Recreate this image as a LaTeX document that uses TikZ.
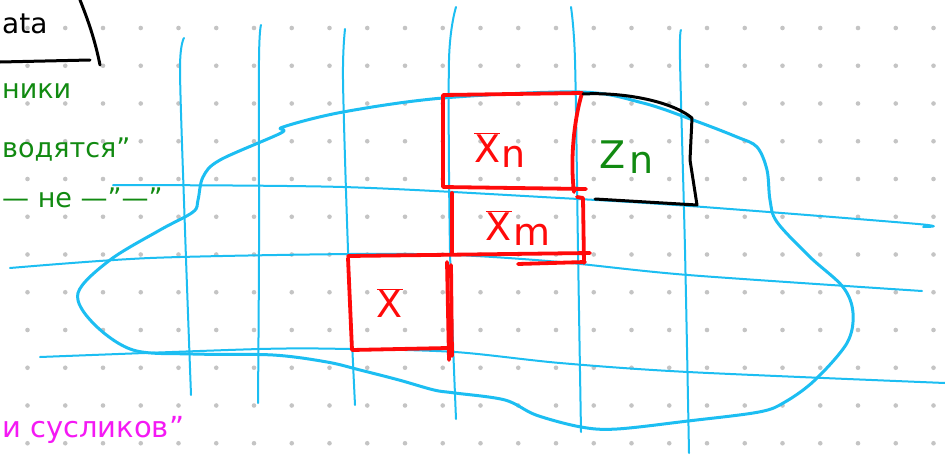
\documentclass[tikz,border=0pt]{standalone}
\usepackage{fontspec}
\setmainfont{DejaVu Sans}
\definecolor{dotc}{HTML}{C4C4C4}
\definecolor{skyc}{HTML}{1CBEF2}
\definecolor{penred}{HTML}{FF0A0A}
\definecolor{pengreen}{HTML}{118A11}
\definecolor{penpink}{HTML}{F419F4}
\tikzset{
  gridline/.style={draw=skyc, line width=2pt, line cap=round, line join=round},
  blobline/.style={draw=skyc, line width=3pt, line cap=round, line join=round},
  redline/.style={draw=penred, line width=3.8pt, line cap=round, line join=round},
  inkline/.style={draw=black, line width=3pt, line cap=round, line join=round},
  greentext/.style={text=pengreen, anchor=base west, inner sep=0pt, font=\fontsize{27}{27}\selectfont},
  pinktext/.style={text=penpink, anchor=base west, inner sep=0pt, font=\fontsize{29}{29}\selectfont},
  redlabel/.style={text=penred, inner sep=0pt, font=\fontsize{38}{38}\selectfont},
  greenlabel/.style={text=pengreen, inner sep=0pt, font=\fontsize{38}{38}\selectfont}
}
\begin{document}
\begin{tikzpicture}[x=1pt,y=-1pt]
\useasboundingbox (0,0) rectangle (945,455);
\fill[white] (0,0) rectangle (945,455);
% dot grid
\foreach \i in {0,...,24}{
  \foreach \j in {0,...,11}{
    \fill[dotc] (27.5+37.75*\i, 28+37.75*\j) circle (2.3);
  }
}
% blue grid lines
\draw[gridline] plot[smooth] coordinates {(184,38) (180,70) (185,230) (191,395)};
\draw[gridline] plot[smooth] coordinates {(261,25) (259,60) (259,250) (258,403)};
\draw[gridline] plot[smooth] coordinates {(345,29) (343,80) (348,250) (355,405)};
\draw[gridline] plot[smooth] coordinates {(456,7) (449,60) (450,250) (456,419)};
\draw[gridline] plot[smooth] coordinates {(571,7) (575,60) (578,250) (581,432)};
\draw[gridline] plot[smooth] coordinates {(681,30) (680,60) (685,250) (689,453)};
\draw[gridline] plot[smooth] coordinates {(113,185) (343,187) (560,198) (690,206) (918,224) (923,227)};
\draw[gridline] plot[smooth] coordinates {(10,268) (150,258) (350,254) (455,255) (560,262) (688,275) (922,291)};
\draw[gridline] plot[smooth] coordinates {(40,357) (260,349) (350,349) (455,352) (560,363) (688,372) (945,383)};
% blob
\draw[blobline] plot[smooth cycle, tension=0.55] coordinates {
 (283,127) (343,112) (443,98) (580,92) (643,103) (693,120) (737,137) (757,147)
 (767,170) (770,200) (777,222) (810,257) (843,287) (853,313) (847,343) (815,380)
 (785,402) (759,412) (688,421) (617,429) (581,427) (536,415) (505,400) (455,393)
 (434,390) (399,380) (360,370) (327,362) (273,355) (193,354) (133,350) (93,323)
 (78,293) (110,260) (160,230) (193,212) (198,200) (203,177) (220,160) (281,133)};
% red boxes
\draw[redline] (586,189) -- (443,187) -- (443,95) -- (582,93) .. controls (574,120) and (570,160) .. (574,192);
\draw[redline] (452,193) -- (452,254);
\draw[redline] (577,197) -- (583,198) -- (584,263);
\draw[redline] (348,256) -- (590,253);
\draw[redline] (518,264) -- (585,262);
\draw[redline] (348,258) -- (352,350) -- (448,348);
\draw[redline] (447,262) -- (449,360);
\draw[redline] (451,265) -- (452,356);
% black box
\draw[inkline] (583,94) .. controls (620,92) and (670,100) .. (692,118) -- (690,160) -- (697,205) -- (595,199);
\draw[inkline] (0,62) -- (90,60);
\draw[inkline] (80,0) .. controls (88,20) and (95,40) .. (100,65);
% labels
\node[redlabel] (xn) at (500,150) {$\overline{\mbox{X}}$\kern1pt\raisebox{-5pt}{n}};
\node[redlabel] (xm) at (518,228) {$\overline{\mbox{X}}$\kern1pt\raisebox{-5pt}{m}};
\node[redlabel] (xx) at (390,303) {$\overline{\mbox{X}}$};
\node[greenlabel] (zn) at (627,157) {Z\kern4pt\raisebox{-5pt}{n}};
% left texts
\node[inner sep=0pt, anchor=base west, font=\fontsize{28}{28}\selectfont] (ata) at (2,33) {ata};
\node[greentext] (t1) at (2,98) {ники};
\node[greentext] (t2) at (2,157) {водятся"};
\node[greentext] (t3) at (2,207) {— не —"—"};
\node[pinktext] (t4) at (2,437) {и сусликов"};
\end{tikzpicture}
\end{document}
